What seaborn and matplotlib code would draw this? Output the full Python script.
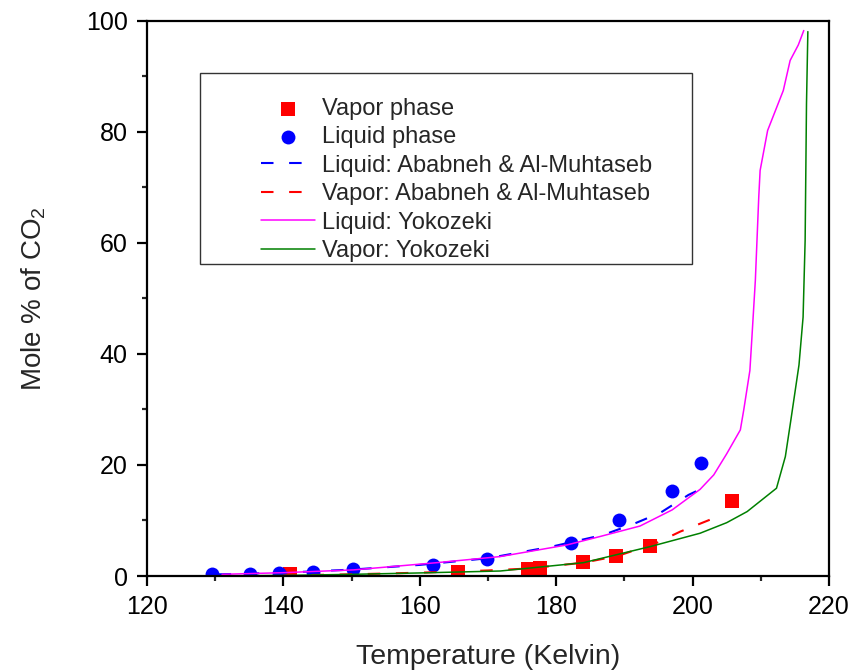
import matplotlib
matplotlib.use("Agg")
import matplotlib.pyplot as plt
import seaborn as sns
from matplotlib.patches import Rectangle
from matplotlib.ticker import MultipleLocator

# ---- data ----
vap_T = [140.9, 165.6, 175.9, 177.6, 184.0, 188.8, 193.7, 205.8]
vap_y = [0.45, 0.7, 1.25, 1.4, 2.5, 3.6, 5.4, 13.5]

liq_T = [129.6, 135.1, 139.4, 144.4, 150.2, 161.9, 169.8, 182.1, 189.2, 197.0, 201.3]
liq_y = [0.3, 0.45, 0.6, 0.8, 1.2, 2.0, 3.0, 5.9, 10.1, 15.3, 20.4]

ab_liq_T = [130.5, 140.0, 150.0, 160.0, 170.0, 179.4, 186.9, 191.3, 195.3, 199.4, 200.6]
ab_liq_y = [0.3, 0.6, 1.15, 2.0, 3.2, 5.3, 7.4, 9.35, 11.4, 14.6, 15.3]

ab_vap_T = [140.0, 150.0, 160.0, 170.0, 176.0, 184.0, 189.0, 194.8, 198.2, 203.5]
ab_vap_y = [0.1, 0.3, 0.6, 1.0, 1.35, 2.4, 3.6, 6.0, 8.0, 10.6]

yk_liq_T = [131.0, 140.0, 150.3, 162.5, 171.8, 181.6, 186.4, 192.3, 197.0, 201.1, 203.1,
            205.0, 207.0, 207.5, 208.4, 208.7, 209.2, 209.4, 209.7, 209.9, 211.0, 213.3,
            214.3, 215.5, 216.3]
yk_liq_y = [0.3, 0.6, 1.1, 2.4, 3.5, 5.6, 7.1, 9.0, 11.9, 15.6, 18.2,
            22.0, 26.3, 29.9, 37.0, 43.0, 53.2, 59.2, 68.2, 73.0, 80.2, 87.4,
            92.8, 95.6, 98.2]

yk_vap_T = [131.0, 140.0, 150.0, 160.0, 171.8, 184.0, 193.8, 201.1, 205.0, 208.0, 212.3,
            213.6, 214.4, 215.0, 215.6, 216.2, 216.5, 216.7, 216.9]
yk_vap_y = [0.02, 0.1, 0.3, 0.55, 0.9, 2.4, 5.3, 7.7, 9.6, 11.6, 15.8,
            21.5, 28.0, 33.0, 38.0, 46.6, 60.4, 85.0, 98.0]

x_ticks = [120, 140, 160, 180, 200, 220]
y_ticks = [0, 20, 40, 60, 80, 100]

# ---- style ----
sns.set_style("white")
plt.rcParams["font.family"] = ["Liberation Sans", "DejaVu Sans"]
plt.rcParams["mathtext.fontset"] = "custom"
plt.rcParams["mathtext.rm"] = "Liberation Sans"
plt.rcParams["mathtext.it"] = "Liberation Sans:italic"

fig = plt.figure(figsize=(8.54, 6.71), dpi=100)
ax = fig.add_axes([147/854, 1-576/671, (829-147)/854, (576-20.5)/671])

sns.scatterplot(x=vap_T, y=vap_y, marker="s", color="#FF0000", s=88, linewidth=0,
                label="Vapor phase", ax=ax, zorder=1)
sns.scatterplot(x=liq_T, y=liq_y, marker="o", color="#0000FF", s=100, linewidth=0,
                label="Liquid phase", ax=ax, zorder=1)
sns.lineplot(x=ab_liq_T, y=ab_liq_y, color="#0000FF", linewidth=1.5,
             linestyle=(0, (6, 7.5)), sort=False, estimator=None,
             label="Liquid: Ababneh & Al-Muhtaseb", ax=ax, zorder=2)
sns.lineplot(x=ab_vap_T, y=ab_vap_y, color="#FF0000", linewidth=1.5,
             linestyle=(0, (6, 7.5)), sort=False, estimator=None,
             label="Vapor: Ababneh & Al-Muhtaseb", ax=ax, zorder=2)
sns.lineplot(x=yk_liq_T, y=yk_liq_y, color="#FF00FF", linewidth=1.1,
             sort=False, estimator=None, label="Liquid: Yokozeki", ax=ax, zorder=2)
sns.lineplot(x=yk_vap_T, y=yk_vap_y, color="#008000", linewidth=1.1,
             sort=False, estimator=None, label="Vapor: Yokozeki", ax=ax, zorder=2)

ax.set_xlim(120, 220)
ax.set_ylim(0, 100)
ax.set_xticks(x_ticks)
ax.set_yticks(y_ticks)
ax.xaxis.set_minor_locator(MultipleLocator(10))
ax.yaxis.set_minor_locator(MultipleLocator(10))
ax.tick_params(axis="both", which="major", direction="out", length=7, width=1.6,
               labelsize=18, pad=7, colors="black", bottom=True, left=True)
ax.tick_params(axis="both", which="minor", direction="out", length=3.5, width=1.6,
               bottom=True, left=True)
for sp in ax.spines.values():
    sp.set_visible(True)
    sp.set_linewidth(1.6)
    sp.set_color("black")

ax.set_xlabel("Temperature (Kelvin)", fontsize=20.5, labelpad=18)
ax.set_ylabel("Mole % of CO$_2$", fontsize=20, labelpad=27)

# legend: frame drawn separately
h, l = ax.get_legend_handles_labels()
leg = ax.legend(h, l, loc="upper left", bbox_to_anchor=(261/854, 1-98/671),
                bbox_transform=fig.transFigure, frameon=False, fontsize=17,
                borderpad=0, borderaxespad=0, labelspacing=0.27,
                handlelength=2.3, handletextpad=0.3)
rect = Rectangle((200/854, 1-264/671), (692-200)/854, (264-73)/671,
                 transform=fig.transFigure, facecolor="none", edgecolor="#333333",
                 linewidth=1.0, zorder=5)
fig.patches.append(rect)

fig.savefig("out.png", dpi=100)
